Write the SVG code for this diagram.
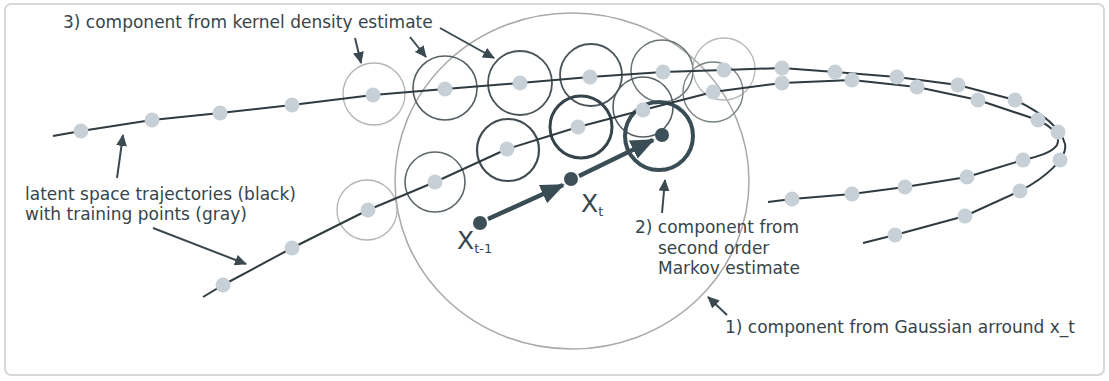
<svg xmlns="http://www.w3.org/2000/svg" width="1109" height="381" viewBox="0 0 1109 381">
<style>
.lbl{font-family:"DejaVu Sans","Liberation Sans",sans-serif;font-size:17px;fill:#35454b}
.xl{font-family:"DejaVu Sans","Liberation Sans",sans-serif;fill:#35454b}
.traj{fill:none;stroke:#2f3b40;stroke-width:2;stroke-linejoin:round}
.pt{fill:#c8d0d7}
.kde{fill:none}
.ann{fill:none;stroke:#3a4a50;stroke-width:2}
.big{fill:none;stroke:#3a4d55;stroke-width:4.5}
.dot{fill:#3d5058}
</style>
<defs>
<marker id="ah" markerUnits="userSpaceOnUse" markerWidth="12" markerHeight="11" viewBox="0 0 12 11" refX="11" refY="5.5" orient="auto"><path d="M0,0 L12,5.5 L0,11 z" fill="#3a4a50"/></marker>
<marker id="bh" markerUnits="userSpaceOnUse" markerWidth="24" markerHeight="20" viewBox="0 0 24 20" refX="22" refY="10" orient="auto"><path d="M0,0 L24,10 L0,20 z" fill="#3a4d55"/></marker>
</defs>
<rect id="frame" x="5" y="4" width="1099" height="371" rx="6" fill="#ffffff" stroke="#d8d8d8" stroke-width="2"/>
<g id="gaussian"><ellipse cx="572" cy="181" rx="177" ry="168" fill="none" stroke="#a9a9a9" stroke-width="1.5"/></g>
<g id="kde-circles">
<circle id="k1" class="kde" cx="374" cy="94" r="31" stroke="#b3b3b3" stroke-width="1.3"/>
<circle id="k2" class="kde" cx="445" cy="88" r="32" stroke="#555f63" stroke-width="1.6"/>
<circle id="k3" class="kde" cx="520" cy="83" r="32" stroke="#4a5458" stroke-width="1.8"/>
<circle id="k4" class="kde" cx="591" cy="75" r="31" stroke="#4a5458" stroke-width="1.8"/>
<circle id="k5" class="kde" cx="662" cy="71" r="31" stroke="#6b7478" stroke-width="1.5"/>
<circle id="k6" class="kde" cx="724" cy="69" r="31" stroke="#b8b8b8" stroke-width="1.3"/>
<circle id="k7" class="kde" cx="713" cy="92" r="30" stroke="#7a8286" stroke-width="1.4"/>
<circle id="k8" class="kde" cx="643" cy="107" r="30" stroke="#555f63" stroke-width="1.6"/>
<circle id="k9" class="kde" cx="581" cy="127" r="31" stroke="#34444a" stroke-width="3"/>
<circle id="k10" class="kde" cx="508" cy="150" r="31" stroke="#3f4b50" stroke-width="2.2"/>
<circle id="k11" class="kde" cx="435" cy="182" r="30" stroke="#5d666a" stroke-width="1.6"/>
<circle id="k12" class="kde" cx="367" cy="210" r="30" stroke="#b3b3b3" stroke-width="1.3"/>
</g>
<g id="markov-circle"><circle cx="659" cy="136" r="34" fill="none" stroke="#3a4d55" stroke-width="4"/></g>
<g id="connectors">
<path id="trajA" class="traj" d="M53,136 L81,131 L152,120 L220,113 L292,105 L373,95 L445,89 L520,83 L590,77 L663,72 L724,70 L782,68 L835,72 L897,77 L958,85 L1015,100 C1040,112 1060,126 1065,144 C1068,158 1045,178 1020,191 L965,216 L895,235 L863,243"/>
<path id="trajB" class="traj" d="M203,297 L223,285 L292,248 L368,210 L435,182 L507,149 L578,127 L643,110 L713,92 L782,83 L852,80 L917,87 L978,100 L1038,120 C1052,127 1061,136 1057,145 C1052,153 1036,157 1023,160 L967,177 L905,187 L852,194 L792,199 L768,202"/>
<line class="big" x1="488" y1="219" x2="563" y2="185" marker-end="url(#bh)"/>
<line class="big" x1="579" y1="176" x2="653" y2="140" marker-end="url(#bh)"/>
<line class="ann" x1="355" y1="38" x2="361" y2="63" marker-end="url(#ah)"/>
<line class="ann" x1="410" y1="37" x2="426" y2="57" marker-end="url(#ah)"/>
<line class="ann" x1="440" y1="28" x2="494" y2="58" marker-end="url(#ah)"/>
<line class="ann" x1="117" y1="178" x2="123" y2="135" marker-end="url(#ah)"/>
<line class="ann" x1="153" y1="228" x2="246" y2="264" marker-end="url(#ah)"/>
<line class="ann" x1="662" y1="213" x2="665" y2="180" marker-end="url(#ah)"/>
<line class="ann" x1="727" y1="315" x2="708" y2="297" marker-end="url(#ah)"/>
</g>
<g id="training-points">
<circle class="pt" cx="81" cy="131" r="7.5"/><circle class="pt" cx="152" cy="120" r="7.5"/><circle class="pt" cx="220" cy="113" r="7.5"/><circle class="pt" cx="292" cy="105" r="7.5"/><circle class="pt" cx="373" cy="95" r="7.5"/><circle class="pt" cx="445" cy="89" r="7.5"/><circle class="pt" cx="520" cy="83" r="7.5"/><circle class="pt" cx="590" cy="77" r="7.5"/><circle class="pt" cx="663" cy="72" r="7.5"/><circle class="pt" cx="724" cy="70" r="7.5"/><circle class="pt" cx="782" cy="68" r="7.5"/><circle class="pt" cx="835" cy="72" r="7.5"/><circle class="pt" cx="897" cy="77" r="7.5"/><circle class="pt" cx="958" cy="85" r="7.5"/><circle class="pt" cx="1015" cy="100" r="7.5"/><circle class="pt" cx="1058" cy="132" r="7.5"/><circle class="pt" cx="1060" cy="160" r="7.5"/><circle class="pt" cx="1020" cy="191" r="7.5"/><circle class="pt" cx="965" cy="216" r="7.5"/><circle class="pt" cx="895" cy="235" r="7.5"/>
<circle class="pt" cx="223" cy="285" r="7.5"/><circle class="pt" cx="292" cy="248" r="7.5"/><circle class="pt" cx="368" cy="210" r="7.5"/><circle class="pt" cx="435" cy="182" r="7.5"/><circle class="pt" cx="507" cy="149" r="7.5"/><circle class="pt" cx="578" cy="127" r="7.5"/><circle class="pt" cx="643" cy="110" r="7.5"/><circle class="pt" cx="713" cy="92" r="7.5"/><circle class="pt" cx="782" cy="83" r="7.5"/><circle class="pt" cx="852" cy="80" r="7.5"/><circle class="pt" cx="917" cy="87" r="7.5"/><circle class="pt" cx="978" cy="100" r="7.5"/><circle class="pt" cx="1038" cy="120" r="7.5"/><circle class="pt" cx="1023" cy="160" r="7.5"/><circle class="pt" cx="967" cy="177" r="7.5"/><circle class="pt" cx="905" cy="187" r="7.5"/><circle class="pt" cx="852" cy="194" r="7.5"/><circle class="pt" cx="792" cy="199" r="7.5"/>
</g>
<g id="x-tm1"><circle class="dot" cx="480" cy="223" r="7"/><text class="xl" x="457" y="249" font-size="25">X<tspan font-size="13" dy="4">t-1</tspan></text></g>
<g id="x-t"><circle class="dot" cx="571" cy="179" r="7"/><text class="xl" x="581" y="212" font-size="25">X<tspan font-size="13" dy="4">t</tspan></text></g>
<g id="x-tp1"><circle class="dot" cx="662" cy="135" r="7"/></g>
<g id="label-kde"><text class="lbl" x="63" y="28">3) component from kernel density estimate</text></g>
<g id="label-traj"><text class="lbl" x="25" y="200">latent space trajectories (black)</text><text class="lbl" x="25" y="220">with training points (gray)</text></g>
<g id="label-markov"><text class="lbl" x="635" y="233">2) component from</text><text class="lbl" x="658" y="254">second order</text><text class="lbl" x="658" y="274">Markov estimate</text></g>
<g id="label-gauss"><text class="lbl" x="725" y="333">1) component from Gaussian arround x_t</text></g>
</svg>
